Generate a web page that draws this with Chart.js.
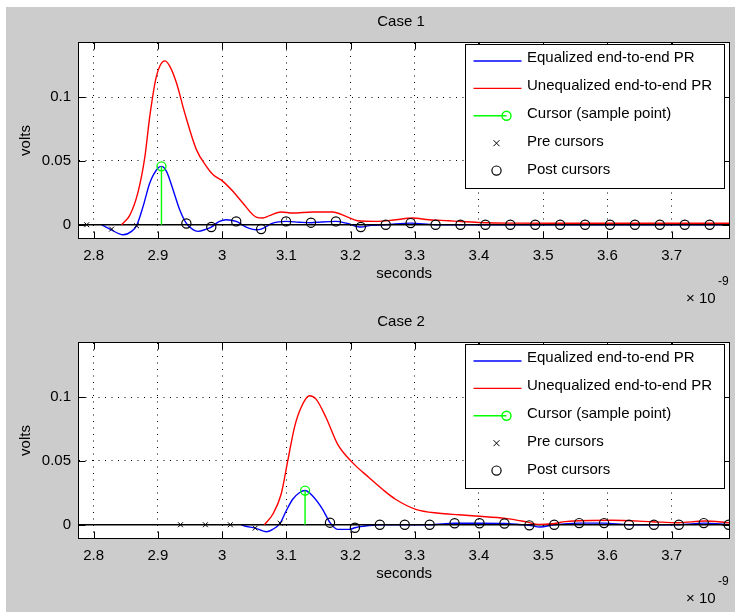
<!DOCTYPE html>
<html>
<head>
<meta charset="utf-8">
<script src="https://cdn.jsdelivr.net/npm/chart.js@4/dist/chart.umd.min.js"></script>
<style>
  html, body { margin: 0; padding: 0; background: #ffffff; }
  #fig { position: relative; width: 735px; height: 612px; overflow: hidden; }
  #bg { position: absolute; left: 6px; top: 7px; width: 729px; height: 605px; background: #cccccc; }
  canvas { position: absolute; left: 0; }
  #c1 { top: 0; }
  #c2 { top: 300px; }
</style>
</head>
<body>
<div id="fig">
  <div id="bg"></div>
  <canvas id="c1" width="735" height="312"></canvas>
  <canvas id="c2" width="735" height="312"></canvas>
</div>
<script>
// Time axis in units of 1e-9 s (the axis shows the x 10^-9 multiplier).
const xTicks = [2.8, 2.9, 3.0, 3.1, 3.2, 3.3, 3.4, 3.5, 3.6, 3.7];
const xTickLabels = ['2.8', '2.9', '3', '3.1', '3.2', '3.3', '3.4', '3.5', '3.6', '3.7'];
const yTicks = [0, 0.05, 0.1];
const yTickLabels = ['0', '0.05', '0.1'];
const xMin = 2.7772, xMax = 3.7896;
const yMin = -0.0104, yMax = 0.1425;

const legendLabels = ['Equalized end-to-end PR', 'Unequalized end-to-end PR', 'Cursor (sample point)', 'Pre cursors', 'Post cursors'];

// ---- Case 1 ----
const case1EqT = [2.812, 2.8253, 2.846, 2.859, 2.8668, 2.877, 2.8874, 2.9003, 2.9056, 2.9134, 2.9236, 2.934, 2.9444, 2.9547, 2.9624, 2.9755, 2.9832, 2.996, 3.0065, 3.022, 3.0376, 3.0531, 3.0608, 3.0789, 3.0996, 3.12, 3.1384, 3.155, 3.1772, 3.195, 3.216, 3.232, 3.2548, 3.2936, 3.3324, 3.3712, 3.45, 3.55, 3.65, 3.7896];
const case1EqV = [0, -0.0034, -0.0079, -0.0052, -0.0008, 0.0144, 0.0328, 0.0445, 0.0458, 0.0419, 0.0275, 0.0118, 0.0010, -0.0039, -0.0052, -0.0034, -0.0018, 0.0026, 0.0039, 0.0026, -0.0018, -0.0039, -0.0034, 0.0013, 0.0026, 0.0020, 0.0016, 0.0022, 0.0026, 0.0010, -0.0018, -0.0005, 0, 0.0013, 0, 0, 0, 0, 0, 0];
const case1UneqT = [2.8435, 2.8564, 2.8693, 2.8797, 2.8874, 2.8978, 2.9107, 2.9185, 2.9289, 2.9418, 2.96, 2.9755, 2.9857, 3.0012, 3.0168, 3.0323, 3.0531, 3.0634, 3.0738, 3.0919, 3.1099, 3.141, 3.1721, 3.1929, 3.2109, 3.2394, 3.2705, 3.2963, 3.3222, 3.3533, 3.3688, 3.40, 3.45, 3.55, 3.65, 3.7896];
const case1UneqV = [0, 0.0075, 0.0260, 0.0530, 0.0850, 0.1165, 0.1285, 0.1244, 0.1113, 0.0877, 0.0589, 0.0458, 0.0393, 0.0340, 0.0262, 0.0170, 0.0060, 0.0053, 0.0071, 0.0100, 0.0092, 0.0100, 0.0100, 0.0065, 0.0031, 0.0026, 0.0039, 0.0053, 0.0039, 0.0031, 0.0026, 0.0018, 0.0013, 0.0012, 0.0012, 0.0012];
const case1CursorT = 2.9056;
const case1CursorV = 0.0458;
const case1PreT = [2.7892, 2.828, 2.8668];
const case1PreV = [0, -0.0034, -0.0008];
const case1PostT = [2.9444, 2.9832, 3.022, 3.0608, 3.0996, 3.1384, 3.1772, 3.216, 3.2548, 3.2936, 3.3324, 3.3712, 3.41, 3.4488, 3.4876, 3.5264, 3.5652, 3.604, 3.6428, 3.6816, 3.7204, 3.7592];
const case1PostV = [0.0010, -0.0018, 0.0026, -0.0034, 0.0026, 0.0016, 0.0026, -0.0018, 0, 0.0013, 0, 0, 0, 0, 0, 0, 0, 0, 0, 0, 0, 0];

// ---- Case 2 ----
const case2EqT = [3.03, 3.0349, 3.0516, 3.0686, 3.0789, 3.0904, 3.0997, 3.11, 3.1203, 3.1292, 3.141, 3.1565, 3.168, 3.1798, 3.198, 3.2068, 3.2187, 3.2456, 3.2844, 3.3232, 3.362, 3.4008, 3.4396, 3.4784, 3.495, 3.5172, 3.556, 3.5948, 3.6336, 3.6724, 3.7112, 3.75, 3.7888];
const case2EqV = [0, -0.0010, -0.0026, -0.0055, -0.0036, 0.0012, 0.0108, 0.0200, 0.0251, 0.0268, 0.0225, 0.0121, 0.0016, -0.0036, -0.0036, -0.0024, -0.0013, 0, 0, 0, 0.0012, 0.0012, 0.0010, -0.0005, -0.0018, 0, 0.0013, 0.0013, 0, 0, 0, 0.0013, 0];
const case2UneqT = [3.066, 3.0789, 3.0919, 3.1022, 3.1126, 3.123, 3.1359, 3.1463, 3.1618, 3.1798, 3.2031, 3.229, 3.2497, 3.27, 3.3016, 3.3377, 3.3688, 3.3947, 3.4413, 3.4724, 3.4931, 3.5137, 3.5345, 3.6069, 3.669, 3.7104, 3.7519, 3.7896];
const case2UneqV = [0, 0.0082, 0.0239, 0.0500, 0.0762, 0.0919, 0.1011, 0.0985, 0.0841, 0.0632, 0.0487, 0.0369, 0.0278, 0.0200, 0.0121, 0.0090, 0.0078, 0.0068, 0.0050, 0.0024, 0.0003, 0.0008, 0.0024, 0.0035, 0.0024, 0.0016, 0.0029, 0.0016];
const case2CursorT = 3.1292;
const case2CursorV = 0.0268;
const case2PreT = [2.9352, 2.974, 3.0128, 3.0516, 3.0904];
const case2PreV = [0, 0, 0, -0.0026, 0.0012];
const case2PostT = [3.168, 3.2068, 3.2456, 3.2844, 3.3232, 3.362, 3.4008, 3.4396, 3.4784, 3.5172, 3.556, 3.5948, 3.6336, 3.6724, 3.7112, 3.75, 3.7888];
const case2PostV = [0.0016, -0.0024, 0, 0, 0, 0.0012, 0.0012, 0.0010, -0.0005, 0, 0.0013, 0.0013, 0, 0, 0, 0.0013, 0];

const FONT = '"Liberation Sans", Arial, Helvetica, sans-serif';
const BLUE = '#0000ff', RED = '#ff0000', GREEN = '#00ff00', BLACK = '#000000';
const LINE_W = 1.4;

function pts(ts, vs) { return ts.map((t, i) => ({ x: t, y: vs[i] })); }

// Axes box, inward tick marks, title, exponent label and legend.
const matlabAxes = {
  id: 'matlabAxes',
  beforeDraw(chart) {
    const a = chart.chartArea, ctx = chart.ctx;
    ctx.save();
    ctx.fillStyle = '#ffffff';
    ctx.fillRect(a.left, a.top, a.right - a.left, a.bottom - a.top);
    ctx.restore();
  },
  afterDatasetsDraw(chart, args, opts) {
    const a = chart.chartArea, ctx = chart.ctx;
    const xs = chart.scales.x, ys = chart.scales.y;
    ctx.save();
    ctx.setLineDash([]);
    ctx.strokeStyle = BLACK;
    ctx.lineWidth = 1;
    const L = Math.round(a.left) - 0.5, R = Math.round(a.right) + 0.5;
    const T = Math.round(a.top) - 0.5, B = Math.round(a.bottom) + 0.5;
    const tl = 7;
    ctx.beginPath();
    xTicks.forEach(v => {
      const px = Math.round(xs.getPixelForValue(v)) + 0.5;
      ctx.moveTo(px, B); ctx.lineTo(px, B - tl);
      ctx.moveTo(px, T); ctx.lineTo(px, T + tl);
    });
    yTicks.forEach(v => {
      const py = Math.round(ys.getPixelForValue(v)) + 0.5;
      ctx.moveTo(L, py); ctx.lineTo(L + tl, py);
      ctx.moveTo(R, py); ctx.lineTo(R - tl, py);
    });
    ctx.stroke();
    ctx.strokeRect(L, T, R - L, B - T);

    // legend
    const lx = 465.5, ly = Math.round(a.top) + 1.5, lw = 259, lh = 144;
    ctx.fillStyle = '#ffffff';
    ctx.fillRect(lx, ly, lw, lh);
    ctx.strokeRect(lx, ly, lw, lh);
    ctx.font = '15px ' + FONT;
    ctx.fillStyle = BLACK;
    ctx.textAlign = 'left';
    ctx.textBaseline = 'alphabetic';
    legendLabels.forEach((txt, i) => {
      ctx.fillText(txt, lx + 61.5, ly + 17.5 + i * 28.1);
    });
    const my = i => ly + 16.5 + i * 27.4;
    ctx.lineWidth = LINE_W;
    ctx.strokeStyle = BLUE;
    ctx.beginPath(); ctx.moveTo(lx + 8, my(0)); ctx.lineTo(lx + 56, my(0)); ctx.stroke();
    ctx.strokeStyle = RED;
    ctx.beginPath(); ctx.moveTo(lx + 8, my(1)); ctx.lineTo(lx + 56, my(1)); ctx.stroke();
    ctx.strokeStyle = GREEN;
    ctx.beginPath(); ctx.moveTo(lx + 8, my(2)); ctx.lineTo(lx + 41, my(2)); ctx.stroke();
    ctx.beginPath(); ctx.arc(lx + 41, my(2), 4.5, 0, Math.PI * 2); ctx.stroke();
    ctx.strokeStyle = BLACK;
    ctx.lineWidth = 1;
    const cx = lx + 31, cy = my(3), r = 3;
    ctx.beginPath();
    ctx.moveTo(cx - r, cy - r); ctx.lineTo(cx + r, cy + r);
    ctx.moveTo(cx - r, cy + r); ctx.lineTo(cx + r, cy - r);
    ctx.stroke();
    ctx.lineWidth = 1.2;
    ctx.beginPath(); ctx.arc(lx + 31, my(4), 4.6, 0, Math.PI * 2); ctx.stroke();

    // title and exponent
    ctx.textAlign = 'center';
    ctx.textBaseline = 'middle';
    ctx.font = '15px ' + FONT;
    ctx.fillText(opts.title, 401, 22);
    ctx.textAlign = 'left';
    ctx.fillText('\u00d7 10', 686, 299);
    ctx.font = '12px ' + FONT;
    ctx.fillText('-9', 718, 282);
    ctx.restore();
  }
};

function makeChart(canvasId, title, eqT, eqV, unT, unV, cT, cV, preT, preV, postT, postV) {
  return new Chart(document.getElementById(canvasId), {
    type: 'scatter',
    data: {
      datasets: [
        { data: pts(postT, postV), showLine: false, pointStyle: 'circle', pointRadius: 4.6,
          pointBorderColor: BLACK, pointBackgroundColor: 'rgba(0,0,0,0)', pointBorderWidth: 1.2, order: 1 },
        { data: pts(preT, preV), showLine: false, pointStyle: 'crossRot', pointRadius: 3.5,
          pointBorderColor: BLACK, pointBorderWidth: 1, order: 2 },
        { data: [{ x: cT, y: 0 }, { x: cT, y: cV }], showLine: true, borderColor: GREEN, borderWidth: LINE_W,
          pointRadius: [0, 4.5], pointStyle: 'circle', pointBorderColor: GREEN,
          pointBackgroundColor: 'rgba(0,0,0,0)', pointBorderWidth: 1.3, order: 3 },
        { data: pts(unT, unV), showLine: true, borderColor: RED, borderWidth: LINE_W, pointRadius: 0,
          cubicInterpolationMode: 'monotone', order: 4 },
        { data: [{ x: xMin, y: 0 }, { x: xMax, y: 0 }], showLine: true, borderColor: BLACK, borderWidth: 1.3,
          pointRadius: 0, order: 5 },
        { data: pts(eqT, eqV), showLine: true, borderColor: BLUE, borderWidth: LINE_W, pointRadius: 0,
          cubicInterpolationMode: 'monotone', order: 6 }
      ]
    },
    options: {
      responsive: false,
      animation: false,
      devicePixelRatio: 1,
      events: [],
      layout: { padding: { top: 43, right: 4, left: 0, bottom: 0 } },
      plugins: { legend: { display: false }, tooltip: { enabled: false }, title: { display: false },
                 matlabAxes: { title: title } },
      scales: {
        x: {
          type: 'linear', min: xMin, max: xMax,
          afterBuildTicks: s => { s.ticks = xTicks.map(v => ({ value: v })); },
          afterFit: s => { s.height = 74; },
          ticks: { color: BLACK, padding: 9, font: { family: FONT, size: 15 }, maxRotation: 0,
                   callback: (v, i) => xTickLabels[i] },
          grid: { color: BLACK, lineWidth: 1, drawTicks: false },
          border: { display: false, dash: [1, 5.5] },
          title: { display: true, text: 'seconds', color: BLACK, font: { family: FONT, size: 15 },
                   padding: { top: 0, bottom: 29 } }
        },
        y: {
          type: 'linear', min: yMin, max: yMax,
          afterBuildTicks: s => { s.ticks = yTicks.map(v => ({ value: v })); },
          afterFit: s => { s.width = 79; },
          ticks: { color: BLACK, padding: 8, font: { family: FONT, size: 15 },
                   callback: (v, i) => yTickLabels[i] },
          grid: { color: BLACK, lineWidth: 1, drawTicks: false },
          border: { display: false, dash: [1, 5.5] },
          title: { display: true, text: 'volts', color: BLACK, font: { family: FONT, size: 15 },
                   padding: { top: 17, bottom: 0 } }
        }
      }
    },
    plugins: [matlabAxes]
  });
}

makeChart('c1', 'Case 1', case1EqT, case1EqV, case1UneqT, case1UneqV, case1CursorT, case1CursorV,
          case1PreT, case1PreV, case1PostT, case1PostV);
makeChart('c2', 'Case 2', case2EqT, case2EqV, case2UneqT, case2UneqV, case2CursorT, case2CursorV,
          case2PreT, case2PreV, case2PostT, case2PostV);
</script>
</body>
</html>
